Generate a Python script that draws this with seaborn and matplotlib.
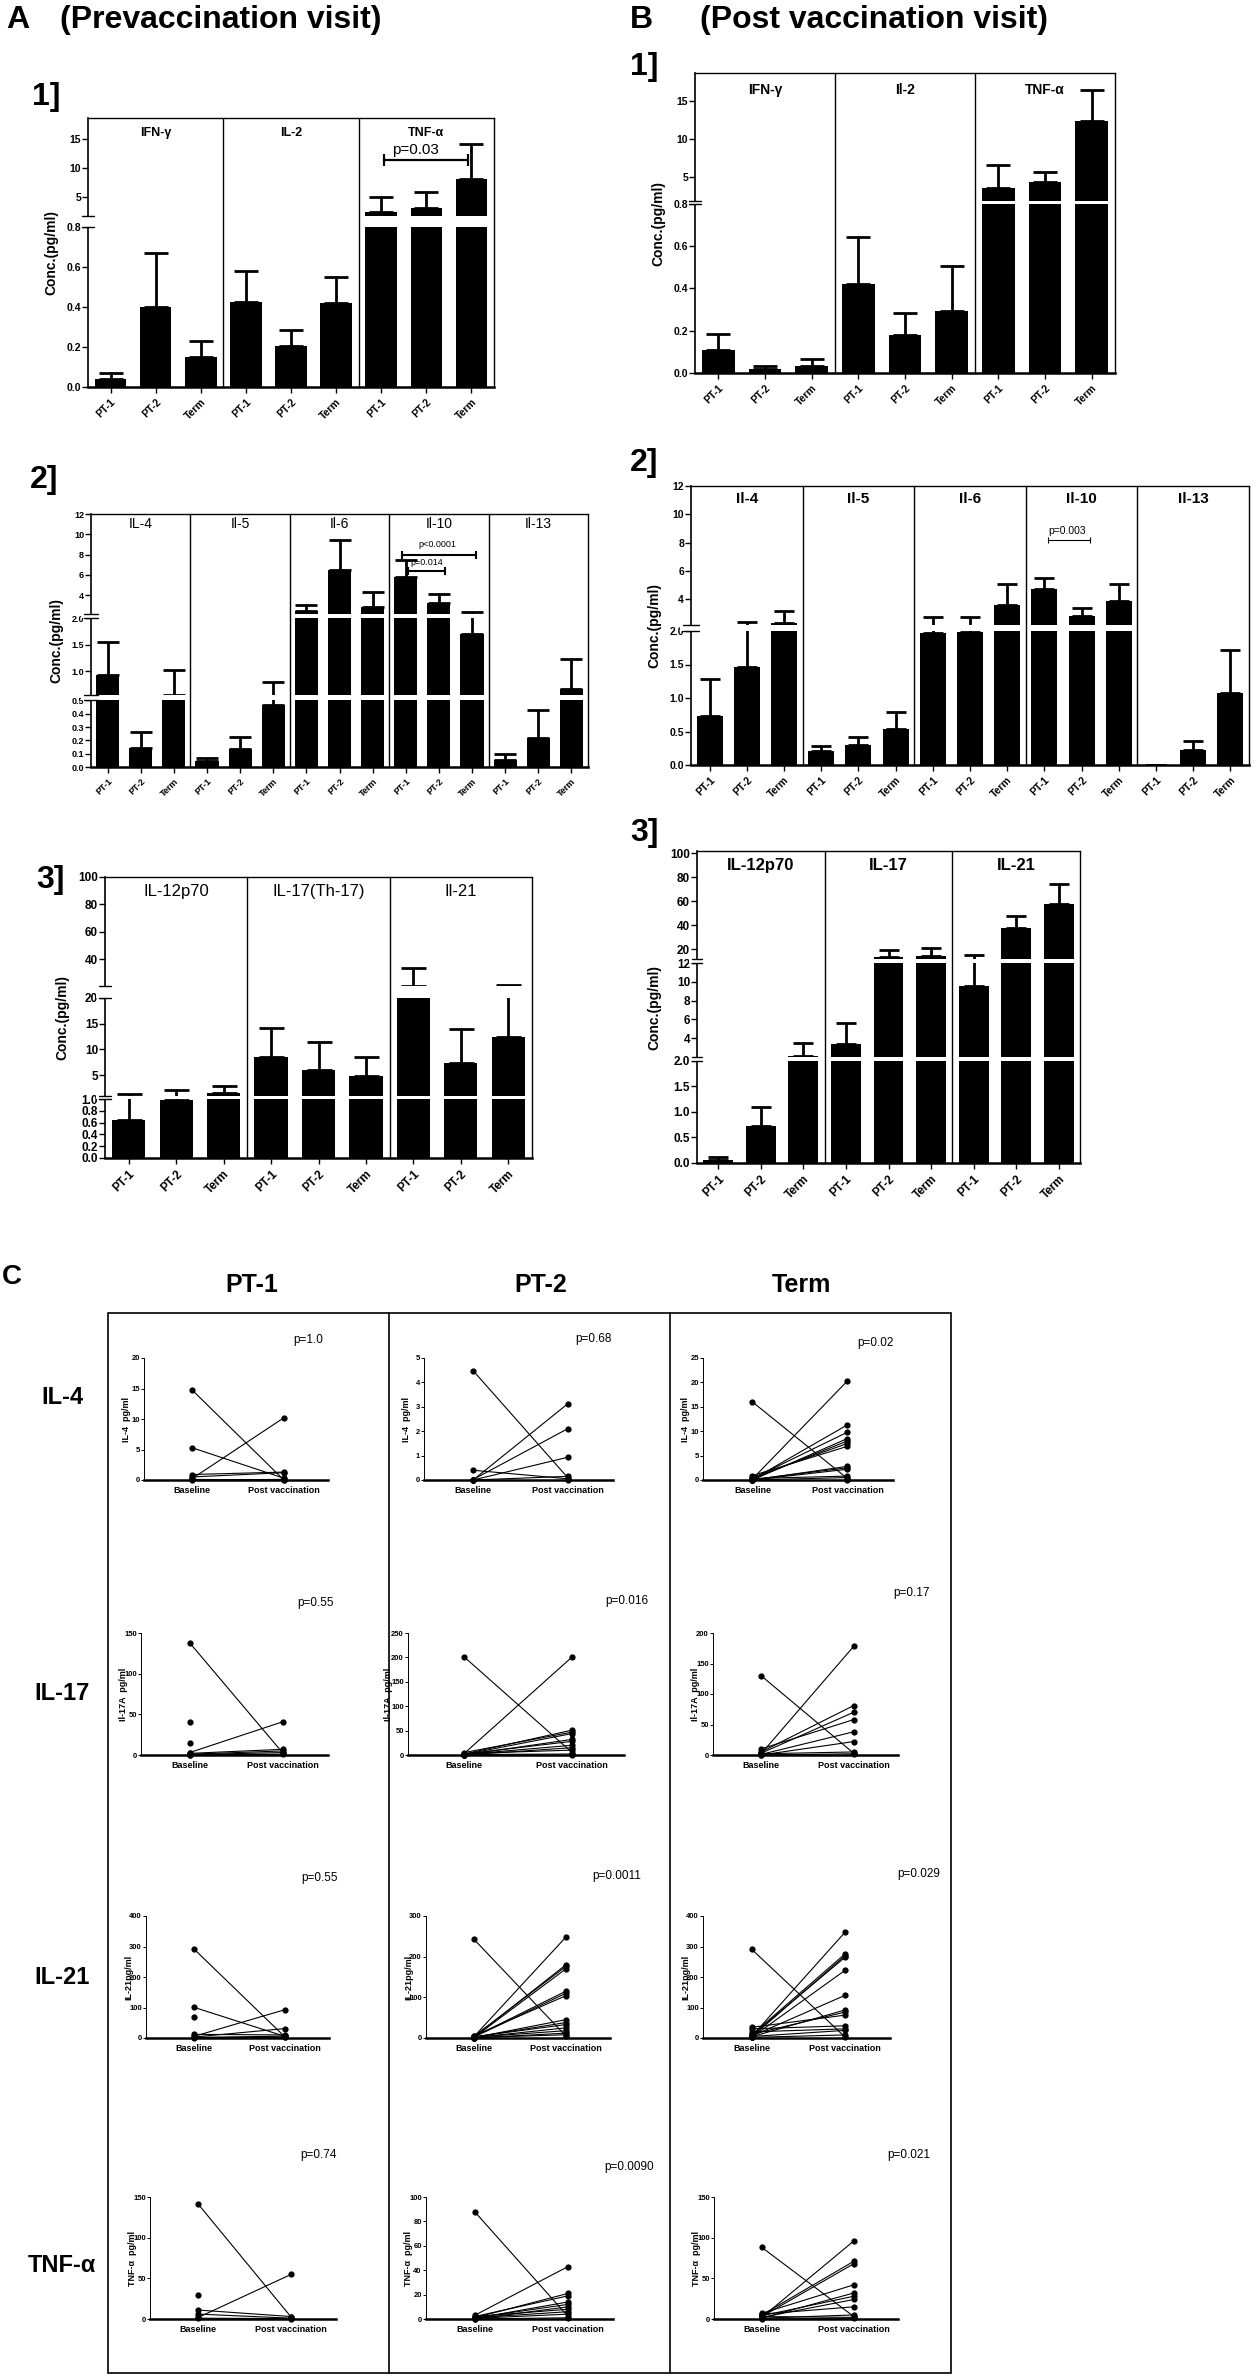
import numpy as np
import pandas as pd
import matplotlib
matplotlib.use('Agg')
import matplotlib.pyplot as plt
import matplotlib.transforms as mtransforms
from matplotlib.patches import Rectangle
from matplotlib.lines import Line2D
import seaborn as sns

nan = np.nan

# ---------------- data ----------------
groups = ['PT-1', 'PT-2', 'Term']

# A1 / B1 : IFN-g, IL-2, TNF-a  (mean and top of SEM bar)
a1_cyto = ['IFN-γ', 'IL-2', 'TNF-α']
a1_mean = [0.04, 0.40, 0.15, 0.423, 0.203, 0.417, 2.54, 3.22, 8.1]
a1_top = [0.07, 0.667, 0.23, 0.58, 0.283, 0.55, 5.0, 5.85, 14.05]

b1_cyto = ['IFN-γ', 'Il-2', 'TNF-α']
b1_mean = [0.11, 0.019, 0.035, 0.42, 0.18, 0.291, 3.47, 4.27, 12.3]
b1_top = [0.184, 0.031, 0.066, 0.644, 0.283, 0.504, 6.51, 5.63, 16.5]

# A2 / B2 : Th2 cytokines
a2_cyto = ['IL-4', 'Il-5', 'Il-6', 'Il-10', 'Il-13']
a2_mean = [0.93, 0.14, 0.556, 0.043, 0.135, 0.468, 2.46, 6.51, 2.86,
           5.78, 3.19, 1.70, 0.055, 0.215, 0.66]
a2_top = [1.56, 0.262, 1.03, 0.07, 0.222, 0.80, 2.99, 9.43, 4.34,
          7.43, 4.11, 2.33, 0.10, 0.425, 1.24]

b2_cyto = ['Il-4', 'Il-5', 'Il-6', 'Il-10', 'Il-13']
b2_mean = [0.73, 1.47, 2.32, 0.215, 0.30, 0.535, 1.965, 1.98, 3.61,
           4.74, 2.80, 3.92, 0.005, 0.225, 1.07]
b2_top = [1.29, 2.39, 3.16, 0.285, 0.425, 0.795, 2.75, 2.75, 5.07,
          5.48, 3.40, 5.07, 0.005, 0.365, 1.72]

# A3 / B3 : IL-12p70, IL-17, IL-21
a3_cyto = ['IL-12p70', 'IL-17(Th-17)', 'Il-21']
a3_mean = [0.65, 0.977, 1.69, 8.6, 6.05, 4.9, 20.7, 7.33, 12.4]
a3_top = [1.43, 2.08, 3.04, 14.2, 11.5, 8.6, 33.8, 14.0, 21.2]

b3_cyto = ['IL-12p70', 'IL-17', 'IL-21']
b3_mean = [0.065, 0.73, 2.1, 3.4, 13.8, 14.6, 9.6, 37.4, 57.6]
b3_top = [0.11, 1.10, 3.47, 5.6, 19.3, 20.7, 15.1, 47.5, 74.4]

# C : paired baseline / post vaccination values (pg/ml)
il4_pt1_base = [14.8, 5.3, 0.2, 0.9, 0.5, 0.1, 0.0]
il4_pt1_post = [0.0, 0.3, 10.2, 1.3, 1.2, 0.0, 0.1]
il4_pt2_base = [4.48, 0.4, 0.0, 0.02, 0.0, 0.0, 0.0]
il4_pt2_post = [0.1, 0.05, 3.12, 2.1, 0.93, 0.15, 0.0]
il4_term_base = [16.0, 0.2, 0.1, 0.3, 0.0, 0.2, 0.5, 0.9, 0.0, 0.1, 0.0, 0.3, 0.0, 0.1]
il4_term_post = [0.3, 20.3, 11.3, 9.8, 8.5, 8.0, 7.5, 6.9, 2.8, 2.5, 2.2, 0.8, 0.5, 0.1]

il17_pt1_base = [138, 40, 15, 3, 2, 1, 0.5, 0.2]
il17_pt1_post = [2, nan, nan, 41, 7, 5, 3, 1]
il17_pt2_base = [201, 3, 2, 5, 1, 0, 2, 1, 0, 3, 1, 0]
il17_pt2_post = [5, 201, 51, 47, 44, 32, 28, 20, 15, 10, 2, 0]
il17_term_base = [130, 2, 5, 3, 10, 1, 0, 2, 0]
il17_term_post = [3, 178, 81, 70, 58, 38, 22, 5, 2]

il21_pt1_base = [293, 101, 70, 5, 3, 12, 2, 1]
il21_pt1_post = [3, 5, nan, 93, 31, 10, 6, 2]
il21_pt2_base = [243, 3, 2, 4, 1, 3, 2, 5, 1, 2, 3, 1, 2, 0, 1]
il21_pt2_post = [5, 248, 180, 176, 170, 115, 110, 104, 45, 38, 33, 25, 18, 12, 8]
il21_term_base = [291, 5, 10, 3, 8, 2, 6, 4, 12, 35, 30, 20, 5, 2]
il21_term_post = [3, 347, 276, 270, 265, 222, 140, 92, 85, 75, 40, 30, 25, 10]

tnf_pt1_base = [141, 30, 11, 6, 2, 1]
tnf_pt1_post = [2, nan, 3, 1, 55, 0.5]
tnf_pt2_base = [88, 3, 1, 2, 0.5, 1, 0, 2, 1, 0.5, 0]
tnf_pt2_post = [2, 43, 21, 19, 14, 12, 10, 8, 6, 4, 1]
tnf_term_base = [88, 2, 5, 3, 7, 1, 4, 2, 6, 1, 3, 0]
tnf_term_post = [3, 96, 71, 68, 42, 32, 28, 24, 15, 5, 2, 1]

p_values = [['p=1.0', 'p=0.68', 'p=0.02'],
            ['p=0.55', 'p=0.016', 'p=0.17'],
            ['p=0.55', 'p=0.0011', 'p=0.029'],
            ['p=0.74', 'p=0.0090', 'p=0.021']]

# ---------------- broken axis definitions ----------------
# value breakpoints -> relative position on the axis (gaps = white bands)
a1_vals, a1_pos = [0, 0.8, 1.8, 18.5], [0, 480, 512, 805]
b1_vals, b1_pos = [0, 0.8, 1.8, 18.7], [0, 508, 516, 900]
a2_vals, a2_pos = [0, 0.5, 0.55, 2.0, 2.1, 12], [0, 200, 215, 446, 458, 759]
b2_vals, b2_pos = [0, 2.0, 2.2, 12], [0, 402, 420, 837]
a3_vals, a3_pos = [0, 1.0, 1.05, 20, 20.5, 100], [0, 177, 187, 482, 517, 845]
b3_vals, b3_pos = [0, 2.0, 2.05, 12, 12.1, 101.7], [0, 308, 320, 601, 614, 938]

t1 = [0, 0.2, 0.4, 0.6, 0.8, 5, 10, 15]
t1_lab = ['0.0', '0.2', '0.4', '0.6', '0.8', '5', '10', '15']
a2_t = [0, 0.1, 0.2, 0.3, 0.4, 0.5, 1.0, 1.5, 2.0, 4, 6, 8, 10, 12]
a2_tl = ['0.0', '0.1', '0.2', '0.3', '0.4', '0.5', '1.0', '1.5', '2.0', '4', '6', '8', '10', '12']
b2_t = [0, 0.5, 1.0, 1.5, 2.0, 4, 6, 8, 10, 12]
b2_tl = ['0.0', '0.5', '1.0', '1.5', '2.0', '4', '6', '8', '10', '12']
a3_t = [0, 0.2, 0.4, 0.6, 0.8, 1.0, 5, 10, 15, 20, 40, 60, 80, 100]
a3_tl = ['0.0', '0.2', '0.4', '0.6', '0.8', '1.0', '5', '10', '15', '20', '40', '60', '80', '100']
b3_t = [0, 0.5, 1.0, 1.5, 2.0, 4, 6, 8, 10, 12, 20, 40, 60, 80, 100]
b3_tl = ['0.0', '0.5', '1.0', '1.5', '2.0', '4', '6', '8', '10', '12', '20', '40', '60', '80', '100']

W, H = 1256, 2376

sns.set_theme(style='ticks', rc={'axes.edgecolor': 'black', 'xtick.color': 'black',
                                 'ytick.color': 'black', 'text.color': 'black',
                                 'axes.labelcolor': 'black'})
plt.rcParams['font.family'] = ['Liberation Sans Narrow', 'Liberation Sans', 'DejaVu Sans']

fig = plt.figure(figsize=(W / 100, H / 100), dpi=100)


def rect_px(x0, y0, x1, y1):
    return [x0 / W, 1 - y1 / H, (x1 - x0) / W, (y1 - y0) / H]


def ftext(x, y, s, **kw):
    fig.text(x / W, 1 - y / H, s, **kw)


def bar_panel(box, cytos, means, tops, vals, pos, ticks, ticklabels, label_y,
              label_size, label_weight, cap, tick_size, brackets=()):
    ax = fig.add_axes(rect_px(*box))
    n = len(means)
    keys = [f'{c} {g}' for c in cytos for g in groups]
    df = pd.DataFrame({'key': keys, 'conc': means})
    sns.barplot(data=df, x='key', y='conc', order=keys, color='black', saturation=1,
                width=0.7, errorbar=None, linewidth=0, ax=ax)
    up = np.array(tops) - np.array(means)
    ax.errorbar(np.arange(n), means, yerr=[np.zeros(n), up], fmt='none', ecolor='black',
                elinewidth=2.0, capsize=cap, capthick=2.0, zorder=2)

    fwd = lambda v: np.interp(v, vals, pos)
    inv = lambda p: np.interp(p, pos, vals)
    ax.set_yscale('function', functions=(fwd, inv))
    ax.set_ylim(0, vals[-1])
    ax.set_xlim(-0.5, n - 0.5)

    # axis breaks
    ytr = mtransforms.blended_transform_factory(ax.transAxes, ax.transData)
    for i in range(1, len(vals) - 1, 2):
        lo, hi = vals[i], vals[i + 1]
        ax.axhspan(lo, hi, xmin=-0.02, xmax=1.0, color='white', lw=0, zorder=3, clip_on=False)
        for v in (lo, hi):
            ax.plot([-0.014, 0.014], [v, v], transform=ytr, color='black', lw=1.0,
                    clip_on=False, zorder=6)

    # group boxes
    for k in range(1, len(cytos) + 1):
        ax.axvline(3 * k - 0.5, color='black', lw=1.0, zorder=4, clip_on=False)
    ax.spines['right'].set_visible(False)
    ax.spines['top'].set_linewidth(1.0)
    ax.spines['left'].set_linewidth(1.2)
    ax.spines['bottom'].set_linewidth(1.8)

    xtr = mtransforms.blended_transform_factory(ax.transData, ax.transAxes)
    for k, c in enumerate(cytos):
        ax.text(3 * k + 1, label_y, c, transform=xtr, ha='center', va='center',
                fontsize=label_size, fontweight=label_weight, zorder=7)

    for x0, x1, yv, txt, tx, ty, fs, lw, ms in brackets:
        ax.plot([x0, x1], [yv, yv], color='black', lw=lw, marker='|', ms=ms, mew=lw, zorder=7)
        ax.text(tx, ty, txt, ha='center', va='center', fontsize=fs, zorder=7)

    ax.set_yticks(ticks, ticklabels)
    ax.set_xticks(range(n), groups * len(cytos))
    for lbl in ax.get_yticklabels():
        lbl.set_fontweight('bold')
    for lbl in ax.get_xticklabels():
        lbl.set_fontweight('bold')
        lbl.set_rotation(45)
        lbl.set_ha('right')
        lbl.set_rotation_mode('anchor')
    ax.tick_params(axis='y', length=4, width=1.0, labelsize=tick_size, pad=1)
    ax.tick_params(axis='x', length=4, width=1.0, labelsize=tick_size, pad=3)
    ax.set_xlabel('')
    ax.set_ylabel('Conc.(pg/ml)', fontsize=10, fontweight='bold', labelpad=6)
    return ax


# ---------------- panel A and B ----------------
ftext(6, 20, 'A', fontsize=23, fontweight='bold', va='center')
ftext(60, 20, '(Prevaccination visit)', fontsize=23, fontweight='bold', va='center')
ftext(630, 20, 'B', fontsize=23, fontweight='bold', va='center')
ftext(700, 20, '(Post vaccination visit)', fontsize=23, fontweight='bold', va='center')

ftext(32, 97, '1]', fontsize=23, fontweight='bold', va='center')
ftext(630, 67, '1]', fontsize=23, fontweight='bold', va='center')
ftext(30, 480, '2]', fontsize=23, fontweight='bold', va='center')
ftext(630, 463, '2]', fontsize=23, fontweight='bold', va='center')
ftext(36, 880, '3]', fontsize=23, fontweight='bold', va='center')
ftext(630, 833, '3]', fontsize=23, fontweight='bold', va='center')

bar_panel((88, 118, 494, 387), a1_cyto, a1_mean, a1_top, a1_vals, a1_pos, t1, t1_lab,
          0.944, 9, 'bold', 8.5, 7.5,
          brackets=[(6.06, 7.92, 11.35, 'p=0.03', 6.75, 13.1, 11, 1.6, 9)])
bar_panel((695, 73, 1115, 373), b1_cyto, b1_mean, b1_top, b1_vals, b1_pos, t1, t1_lab,
          0.944, 10, 'bold', 8.5, 7.5)
bar_panel((91, 514, 588, 767), a2_cyto, a2_mean, a2_top, a2_vals, a2_pos, a2_t, a2_tl,
          0.962, 10, 'normal', 8, 6.5,
          brackets=[(8.9, 11.11, 7.92, 'p<0.0001', 9.95, 8.97, 6.5, 1.5, 6),
                    (9.08, 10.19, 6.38, 'p=0.014', 9.62, 7.17, 6.5, 1.5, 6)])
bar_panel((691, 486, 1249, 765), b2_cyto, b2_mean, b2_top, b2_vals, b2_pos, b2_t, b2_tl,
          0.955, 11, 'bold', 7, 7.5,
          brackets=[(9.1, 10.22, 8.18, 'p=0.003', 9.6, 8.8, 7.5, 0.8, 5)])
bar_panel((105, 877, 532, 1158), a3_cyto, a3_mean, a3_top, a3_vals, a3_pos, a3_t, a3_tl,
          0.947, 12, 'normal', 9, 8.5)
bar_panel((697, 851, 1080, 1163), b3_cyto, b3_mean, b3_top, b3_vals, b3_pos, b3_t, b3_tl,
          0.952, 12, 'bold', 7, 8.5)

# ---------------- panel C ----------------
ftext(2, 1277, 'C', fontsize=20, fontweight='bold', va='center')
for x, s in zip([252, 541, 801], groups):
    ftext(x, 1285, s, fontsize=18, fontweight='bold', ha='center', va='center')

fig.add_artist(Rectangle((108 / W, 1 - 2373 / H), (951 - 108) / W, (2373 - 1313) / H,
                         transform=fig.transFigure, fill=False, lw=1.2, ec='black'))
for x in (389, 670):
    fig.add_artist(Line2D([x / W, x / W], [1 - 1313 / H, 1 - 2373 / H],
                          transform=fig.transFigure, color='black', lw=1.2))

row_names = ['IL-4', 'IL-17', 'IL-21', 'TNF-α']
row_label_y = [1397, 1693, 1978, 2265]
for s, y in zip(row_names, row_label_y):
    ftext(62, y, s, fontsize=17, fontweight='bold', ha='center', va='center')

c_ylabels = ['IL-4  pg/ml', 'Il-17A  pg/ml', 'IL-21pg/ml', 'TNF-α  pg/ml']
c_rows_y = [(1358, 1480), (1633, 1755), (1916, 2038), (2197, 2319)]
c_cols_x = [[(144, 328), (424, 613), (703, 893)],
            [(141, 328), (408, 624), (713, 898)],
            [(146, 329), (426, 610), (703, 890)],
            [(150, 336), (426, 613), (714, 898)]]
c_ymax = [[20, 5, 25], [150, 250, 200], [400, 300, 400], [150, 100, 150]]
c_ystep = [[5, 1, 5], [50, 50, 50], [100, 100, 100], [50, 20, 50]]
c_p_xy = [[(308, 1340), (593, 1339), (875, 1343)],
          [(316, 1603), (627, 1601), (912, 1593)],
          [(320, 1878), (617, 1876), (919, 1874)],
          [(319, 2155), (629, 2167), (909, 2155)]]
c_data = [[(il4_pt1_base, il4_pt1_post), (il4_pt2_base, il4_pt2_post), (il4_term_base, il4_term_post)],
          [(il17_pt1_base, il17_pt1_post), (il17_pt2_base, il17_pt2_post), (il17_term_base, il17_term_post)],
          [(il21_pt1_base, il21_pt1_post), (il21_pt2_base, il21_pt2_post), (il21_term_base, il21_term_post)],
          [(tnf_pt1_base, tnf_pt1_post), (tnf_pt2_base, tnf_pt2_post), (tnf_term_base, tnf_term_post)]]

for r in range(4):
    y0, y1 = c_rows_y[r]
    for c in range(3):
        x0, x1 = c_cols_x[r][c]
        base, post = c_data[r][c]
        ax = fig.add_axes(rect_px(x0, y0, x1, y1))
        n = len(base)
        df = pd.DataFrame({'pair': list(range(n)) * 2,
                           'time': [0] * n + [1] * n,
                           'value': list(base) + list(post)}).dropna()
        sns.lineplot(data=df, x='time', y='value', units='pair', estimator=None,
                     color='black', linewidth=0.8, marker='o', markersize=4.5,
                     markeredgewidth=0, clip_on=False, ax=ax)
        ax.set_xlim(-0.52, 1.48)
        ax.set_ylim(0, c_ymax[r][c])
        ax.set_yticks(np.arange(0, c_ymax[r][c] + 1, c_ystep[r][c]))
        ax.set_xticks([0, 1], ['Baseline', 'Post vaccination'])
        for lbl in ax.get_xticklabels() + ax.get_yticklabels():
            lbl.set_fontweight('bold')
        ax.tick_params(axis='x', length=0, labelsize=6.5, pad=4)
        ax.tick_params(axis='y', length=2, width=0.7, labelsize=5.5, pad=1)
        sns.despine(ax=ax)
        ax.spines['bottom'].set_linewidth(1.8)
        ax.spines['left'].set_linewidth(0.7)
        ax.set_xlabel('')
        ax.set_ylabel(c_ylabels[r], fontsize=6.5, fontweight='bold')
        ax.yaxis.set_label_coords(-0.07, 0.5)
        px, py = c_p_xy[r][c]
        ftext(px, py, p_values[r][c], fontsize=8.5, ha='center', va='center')

fig.savefig('out.png', dpi=100)
